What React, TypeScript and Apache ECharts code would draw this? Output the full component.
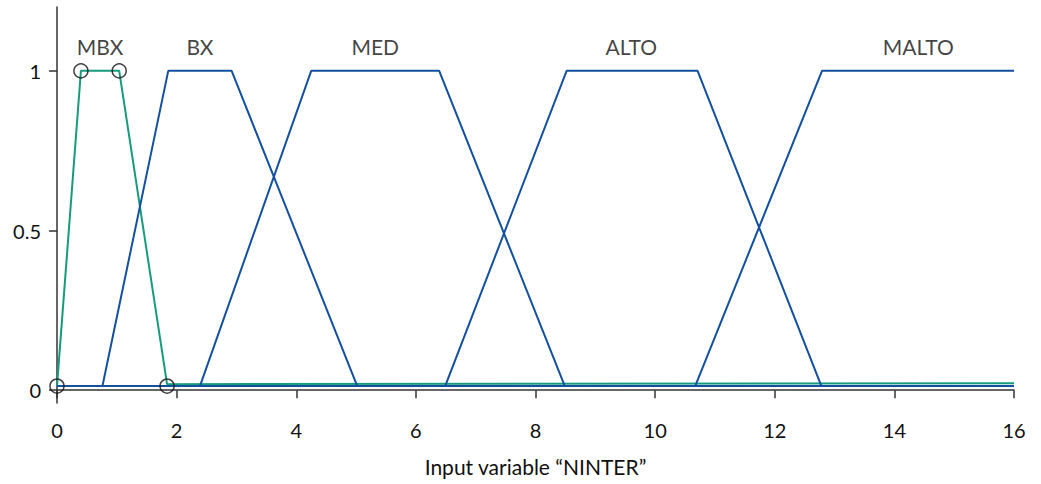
import React, { useEffect, useRef } from "react";
import * as echarts from "echarts";

const mbx: number[][] = [[0, 0.013], [0.4, 1], [1.04, 1], [1.84, 0.019], [16, 0.022]];
const bx: number[][] = [[0, 0.013], [0.76, 0.013], [1.86, 1], [2.92, 1], [5.02, 0.013], [16, 0.013]];
const med: number[][] = [[0, 0.013], [2.39, 0.013], [4.25, 1], [6.39, 1], [8.49, 0.013], [16, 0.013]];
const alto: number[][] = [[0, 0.013], [6.49, 0.013], [8.52, 1], [10.71, 1], [12.78, 0.013], [16, 0.013]];
const malto: number[][] = [[0, 0.013], [10.67, 0.013], [12.79, 1], [16, 1]];
const circles: number[][] = [[0, 0.013], [0.4, 1], [1.04, 1], [1.84, 0.013]];
const setNames = ["MBX", "BX", "MED", "ALTO", "MALTO"];
const setLabelX = [0.72, 2.39, 5.32, 9.6, 14.4];
const setLabelY = 1.077;
const yTicks = [0, 0.5, 1];
const xTitle = "Input variable \u201cNINTER\u201d";

const BLUE = "#13509f";
const GREEN = "#169b7d";
const FONT = "Lato";

export default function App() {
  const ref = useRef<HTMLDivElement>(null);
  useEffect(() => {
    if (!ref.current) return;
    const chart = echarts.init(ref.current, null, { renderer: "svg" });
    const lineSeries = (data: number[][], color: string) => ({
      type: "line",
      data,
      symbol: "none",
      lineStyle: { color, width: 2 },
      z: 2,
    });
    chart.setOption({
      animation: false,
      textStyle: { fontFamily: FONT },
      grid: { left: 57, right: 27, top: 7, bottom: 81, containLabel: false },
      xAxis: {
        type: "value",
        min: 0,
        max: 16,
        interval: 2,
        splitLine: { show: false },
        axisLine: { lineStyle: { color: "#333", width: 1.5 } },
        axisTick: { length: 8, lineStyle: { color: "#333", width: 1.5 } },
        axisLabel: { color: "#111", fontSize: 20, fontFamily: FONT, margin: 17 },
        name: xTitle,
        nameLocation: "middle",
        nameGap: 53,
        nameTextStyle: { color: "#111", fontSize: 21, fontFamily: FONT },
      },
      yAxis: {
        type: "value",
        min: -0.04,
        max: 1.2,
        splitLine: { show: false },
        axisLine: { show: true, lineStyle: { color: "#333", width: 1.5 } },
        axisTick: { show: true, length: 8, customValues: yTicks, lineStyle: { color: "#333", width: 1.5 } },
        axisLabel: { color: "#111", fontSize: 20, fontFamily: FONT, margin: 16, customValues: yTicks },
      },
      series: [
        lineSeries(mbx, GREEN),
        lineSeries(bx, BLUE),
        lineSeries(med, BLUE),
        lineSeries(alto, BLUE),
        lineSeries(malto, BLUE),
        {
          type: "scatter",
          data: circles,
          symbol: "circle",
          symbolSize: 14,
          itemStyle: { color: "none", borderColor: "#111", borderWidth: 1.5 },
          z: 5,
        },
        {
          type: "scatter",
          data: setLabelX.map((x, i) => ({ value: [x, setLabelY], name: setNames[i] })),
          symbolSize: 0,
          label: {
            show: true,
            position: "inside",
            formatter: (p: any) => p.name,
            color: "#111",
            fontSize: 21,
            fontFamily: FONT,
          },
          z: 6,
        },
      ],
    });
    return () => chart.dispose();
  }, []);
  return <div ref={ref} style={{ width: 1041, height: 484, position: "absolute", left: 0, top: 0 }} />;
}
